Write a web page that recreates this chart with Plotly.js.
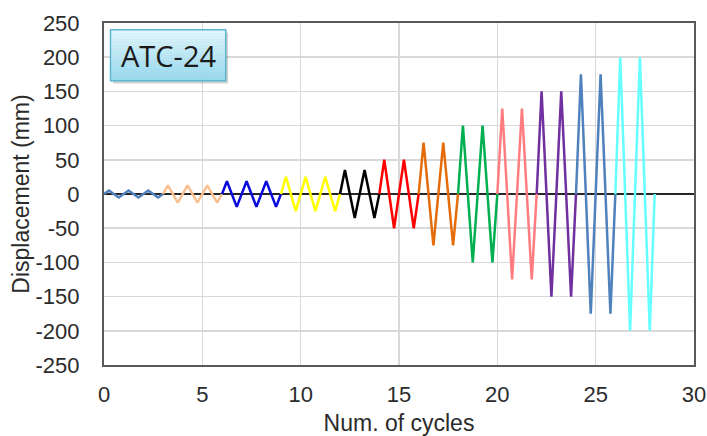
<!DOCTYPE html>
<html>
<head>
<meta charset="utf-8">
<script src="https://cdn.plot.ly/plotly-3.0.1.min.js"></script>
<style>html,body{margin:0;padding:0;background:#fff;}#chart{width:707px;height:436px;}</style>
</head>
<body>
<div id="chart"></div>
<script>
// Turning points of the ATC-24 loading history, one array pair per amplitude step
const step1X = [0, 0.25, 0.75, 1, 1.25, 1.75, 2, 2.25, 2.75, 3];
const step1Y = [0, 5, -5, 0, 5, -5, 0, 5, -5, 0];
const step2X = [3, 3.25, 3.75, 4, 4.25, 4.75, 5, 5.25, 5.75, 6];
const step2Y = [0, 12.5, -12.5, 0, 12.5, -12.5, 0, 12.5, -12.5, 0];
const step3X = [6, 6.25, 6.75, 7, 7.25, 7.75, 8, 8.25, 8.75, 9];
const step3Y = [0, 18.75, -18.75, 0, 18.75, -18.75, 0, 18.75, -18.75, 0];
const step4X = [9, 9.25, 9.75, 10, 10.25, 10.75, 11, 11.25, 11.75, 12];
const step4Y = [0, 25, -25, 0, 25, -25, 0, 25, -25, 0];
const step5X = [12, 12.25, 12.75, 13, 13.25, 13.75, 14];
const step5Y = [0, 35, -35, 0, 35, -35, 0];
const step6X = [14, 14.25, 14.75, 15, 15.25, 15.75, 16];
const step6Y = [0, 50, -50, 0, 50, -50, 0];
const step7X = [16, 16.25, 16.75, 17, 17.25, 17.75, 18];
const step7Y = [0, 75, -75, 0, 75, -75, 0];
const step8X = [18, 18.25, 18.75, 19, 19.25, 19.75, 20];
const step8Y = [0, 100, -100, 0, 100, -100, 0];
const step9X = [20, 20.25, 20.75, 21, 21.25, 21.75, 22];
const step9Y = [0, 125, -125, 0, 125, -125, 0];
const step10X = [22, 22.25, 22.75, 23, 23.25, 23.75, 24];
const step10Y = [0, 150, -150, 0, 150, -150, 0];
const step11X = [24, 24.25, 24.75, 25, 25.25, 25.75, 26];
const step11Y = [0, 175, -175, 0, 175, -175, 0];
const step12X = [26, 26.25, 26.75, 27, 27.25, 27.75, 28];
const step12Y = [0, 200, -200, 0, 200, -200, 0];

const xTicks = [0, 5, 10, 15, 20, 25, 30];
const yTicks = [-250, -200, -150, -100, -50, 0, 50, 100, 150, 200, 250];
const labelText = "ATC-24";

const stepsX = [step1X, step2X, step3X, step4X, step5X, step6X, step7X, step8X, step9X, step10X, step11X, step12X];
const stepsY = [step1Y, step2Y, step3Y, step4Y, step5Y, step6Y, step7Y, step8Y, step9Y, step10Y, step11Y, step12Y];
const colors = ["#4F81BD", "#FAC090", "#0A0ADC", "#FFFF00", "#000000", "#FF0000",
                "#E46C0A", "#00B050", "#FF7C80", "#7030A0", "#4F81BD", "#66FFFF"];

const traces = stepsX.map((xs, i) => ({
  type: "scatter", mode: "lines", x: xs, y: stepsY[i],
  line: {color: colors[i], width: 2.5}, hoverinfo: "skip", showlegend: false
}));

// label box with vertical gradient and drop shadow (paper coordinates)
const bx0 = 0.011, bx1 = 0.2063, by0 = 0.8311, by1 = 0.9804;
const shapes = [];
shapes.push({type: "rect", xref: "paper", yref: "paper", x0: bx0 + 0.004, x1: bx1 + 0.004,
  y0: by0 - 0.008, y1: by1 - 0.008, fillcolor: "rgba(0,0,0,0.18)", line: {width: 0}, layer: "above"});
const nStrips = 16;
const gradTop = [222, 246, 252], gradBot = [150, 216, 238];
for (let k = 0; k < nStrips; k++) {
  const t = k / (nStrips - 1);
  const c = gradTop.map((v, j) => Math.round(v + (gradBot[j] - v) * t));
  const ya = by1 - (by1 - by0) * k / nStrips;
  const yb = by1 - (by1 - by0) * (k + 1) / nStrips;
  shapes.push({type: "rect", xref: "paper", yref: "paper", x0: bx0, x1: bx1, y0: yb, y1: ya,
    fillcolor: `rgb(${c[0]},${c[1]},${c[2]})`, line: {width: 0}, layer: "above"});
}
shapes.push({type: "rect", xref: "paper", yref: "paper", x0: bx0, x1: bx1, y0: by0, y1: by1,
  fillcolor: "rgba(0,0,0,0)", line: {color: "#5DB6CF", width: 1.5}, layer: "above"});

const txtFamily = "Liberation Sans, Arial, sans-serif";
const tickFont = {family: txtFamily, size: 22, color: "#2b2b2b"};
const layout = {
  width: 707, height: 436,
  margin: {l: 104, r: 13, t: 23, b: 71},
  paper_bgcolor: "#ffffff", plot_bgcolor: "#ffffff",
  showlegend: false,
  xaxis: {
    range: [0, 30], tickvals: xTicks, ticktext: xTicks.map(String),
    showgrid: true, gridcolor: "#D9D9D9", gridwidth: 1.5,
    zeroline: false, showline: true, mirror: true, linecolor: "#595959", linewidth: 2,
    ticks: "", ticklabelstandoff: 9, tickfont: tickFont,
    title: {text: "Num. of cycles", font: {family: txtFamily, size: 23, color: "#2b2b2b"}, standoff: 12}
  },
  yaxis: {
    range: [-250, 250], tickvals: yTicks, ticktext: yTicks.map(String),
    showgrid: true, gridcolor: "#D9D9D9", gridwidth: 1.5,
    zeroline: true, zerolinecolor: "#262626", zerolinewidth: 1.6,
    showline: true, mirror: true, linecolor: "#595959", linewidth: 2,
    ticks: "", ticklabelstandoff: 18, tickfont: tickFont,
    title: {text: "Displacement (mm)", font: {family: txtFamily, size: 23, color: "#2b2b2b"}, standoff: 0}
  },
  shapes: shapes,
  annotations: [{
    xref: "paper", yref: "paper", x: (bx0 + bx1) / 2, y: (by0 + by1) / 2,
    xanchor: "center", yanchor: "middle", showarrow: false, text: labelText,
    font: {family: "Open Sans, Noto Sans, sans-serif", size: 29, color: "#1a1a1a"}
  }]
};

Plotly.newPlot("chart", traces, layout, {staticPlot: true, displayModeBar: false});
</script>
</body>
</html>
